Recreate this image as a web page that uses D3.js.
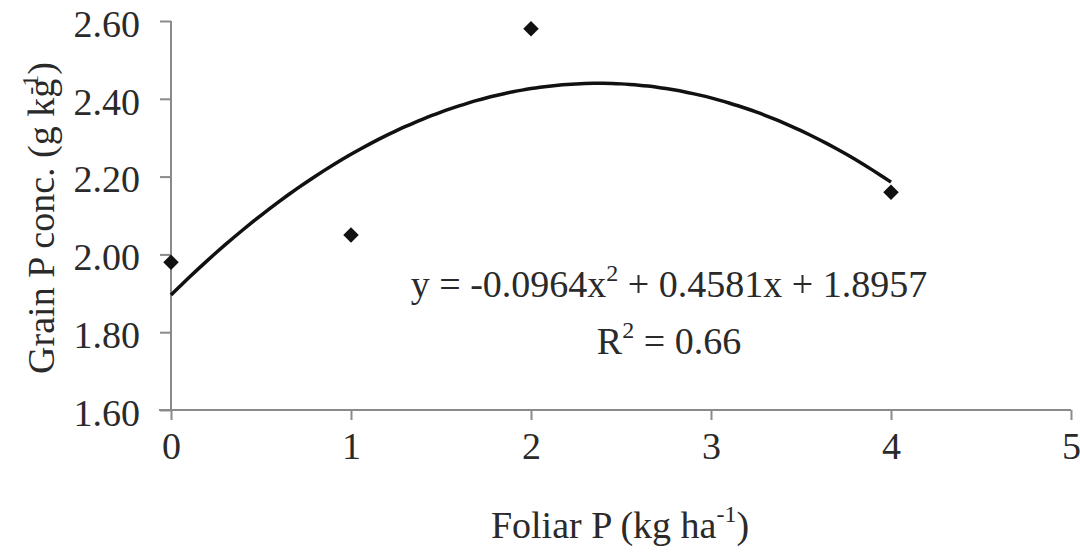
<!DOCTYPE html>
<html>
<head>
<meta charset="utf-8">
<script src="https://cdn.jsdelivr.net/npm/d3@7"></script>
<style>
  html, body { margin:0; padding:0; background:#fff; }
  svg text { font-family: "Liberation Serif", "Times New Roman", serif; fill:#2a2a2a; }
  .axis path, .axis line { stroke:#8a8a8a; stroke-width:2; }
</style>
</head>
<body>
<svg id="chart" width="1080" height="552"></svg>
<script>
// --- Data ---
const xDose  = [0, 1, 2, 4];               // Foliar P (kg ha-1)
const grainP = [1.98, 2.05, 2.58, 2.16];   // Grain P conc. (g kg-1)
const fitCoef = [-0.0964, 0.4581, 1.8957]; // a, b, c of the fitted quadratic
const xTicks = [0, 1, 2, 3, 4, 5];
const yTicks = [1.6, 1.8, 2.0, 2.2, 2.4, 2.6];

// --- Layout ---
const svg = d3.select("#chart");
const M = {t:21, l:171, r:9, b:142};
const W = 1080, H = 552;
const FS = 38;
const x = d3.scaleLinear().domain([0,5]).range([M.l, W - M.r]);
const y = d3.scaleLinear().domain([1.6,2.6]).range([H - M.b, M.t]);

// axes
const gx = svg.append("g").attr("class","axis").attr("transform",`translate(0,${y(1.6)})`)
  .call(d3.axisBottom(x).tickValues(xTicks).tickSize(10).tickPadding(12).tickFormat(d3.format("d")));
gx.select(".domain").attr("d", `M${M.l-12},0H${x(5)}`);
gx.selectAll("text").attr("font-size", FS).attr("fill","#2a2a2a");

const gy = svg.append("g").attr("class","axis").attr("transform",`translate(${M.l},0)`)
  .call(d3.axisLeft(y).tickValues(yTicks).tickSize(11).tickPadding(20).tickFormat(d3.format(".2f")));
gy.select(".domain").attr("d", `M0,${y(2.6)}V${y(1.6)}`);
gy.selectAll("text").attr("font-size", FS).attr("fill","#2a2a2a").attr("dy","0.40em");

// trend line from the equation shown on the chart
const fx = d3.range(0, 4.001, 0.05);
const fit = v => fitCoef[0]*v*v + fitCoef[1]*v + fitCoef[2];
svg.append("path")
  .datum(fx)
  .attr("fill","none").attr("stroke","#111").attr("stroke-width",3.5)
  .attr("d", d3.line().x(d=>x(d)).y(d=>y(fit(d))).curve(d3.curveBasis));

// points (diamonds)
svg.selectAll(".pt").data(xDose).enter().append("path")
  .attr("class","pt")
  .attr("transform",(d,i)=>`translate(${x(d)},${y(grainP[i])}) rotate(45)`)
  .attr("d", d3.symbol(d3.symbolSquare, 120))
  .attr("fill","#111");

// equation
const eq = svg.append("text").attr("x", 669).attr("y", 297).attr("text-anchor","middle").attr("font-size",FS);
eq.append("tspan").text("y = -0.0964x");
eq.append("tspan").attr("dy",-16).attr("font-size",24).text("2");
eq.append("tspan").attr("dy",16).text(" + 0.4581x + 1.8957");

const r2 = svg.append("text").attr("x", 669).attr("y", 354).attr("text-anchor","middle").attr("font-size",FS);
r2.append("tspan").text("R");
r2.append("tspan").attr("dy",-16).attr("font-size",24).text("2");
r2.append("tspan").attr("dy",16).text(" = 0.66");

// axis titles
const xt = svg.append("text").attr("x", 620).attr("y", 538).attr("text-anchor","middle").attr("font-size",FS);
xt.append("tspan").text("Foliar P (kg ha");
xt.append("tspan").attr("dy",-16).attr("font-size",24).text("-1");
xt.append("tspan").attr("dy",16).text(")");

const yt = svg.append("text").attr("transform","translate(54,218) rotate(-90)").attr("text-anchor","middle").attr("font-size",FS);
yt.append("tspan").text("Grain P conc. (g kg");
yt.append("tspan").attr("dy",-16).attr("dx",-16).attr("font-size",24).text("-1");
yt.append("tspan").attr("dy",16).text(")");
</script>
</body>
</html>
